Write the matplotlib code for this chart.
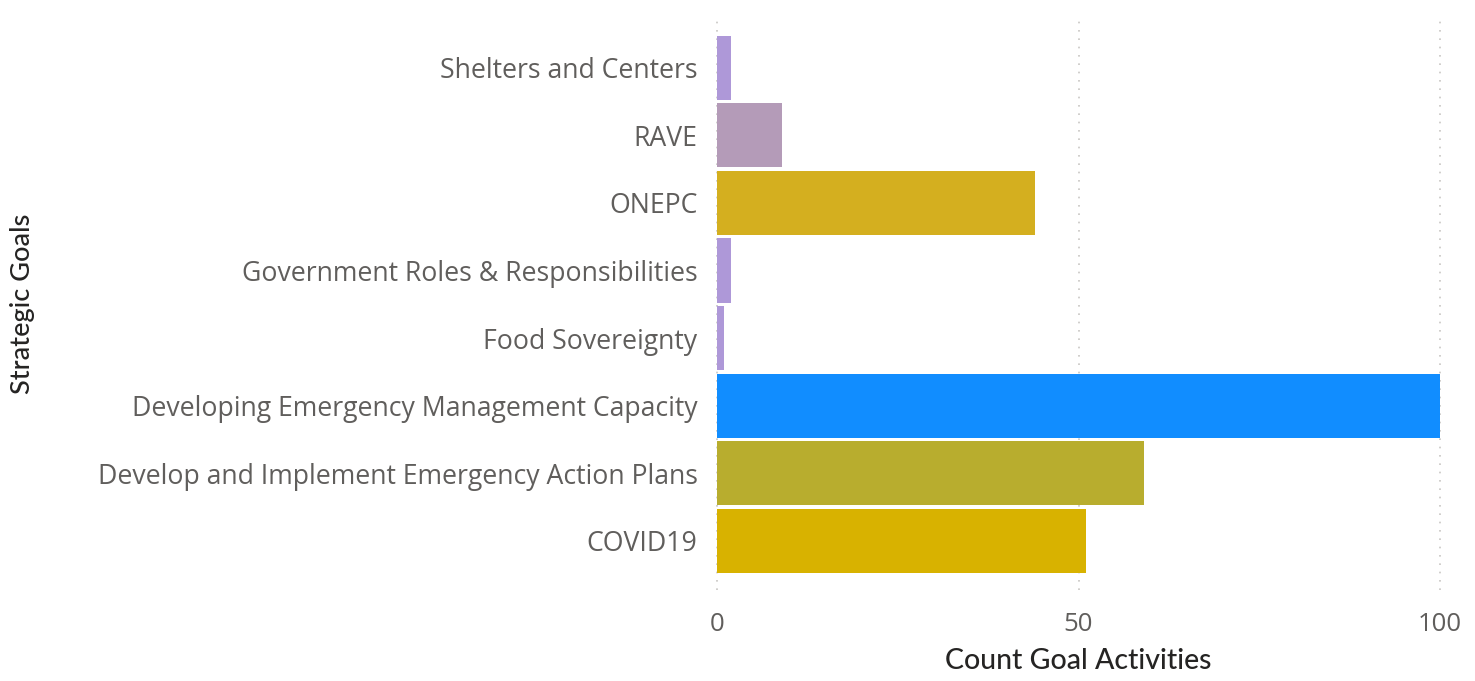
import matplotlib
matplotlib.use("Agg")
import matplotlib.pyplot as plt

categories = ["COVID19", "Develop and Implement Emergency Action Plans",
              "Developing Emergency Management Capacity", "Food Sovereignty",
              "Government Roles & Responsibilities", "ONEPC", "RAVE",
              "Shelters and Centers"]
values = [51, 59, 100, 1, 2, 44, 9, 2]
colors = ["#D8B200", "#B8AD2E", "#118DFF", "#AE98D8", "#AE98D8",
          "#D4AF1F", "#B49BB8", "#AE98D8"]
xticks = [0, 50, 100]

fig = plt.figure(figsize=(14.75, 6.81), dpi=100)
ax = fig.add_axes([717/1475, 1-590/681, (1440-717)/1475, (590-15)/681])
ypos = list(range(len(categories)))
ax.barh(ypos, values, height=0.95, color=colors, zorder=2)
ax.set_xlim(0, 100)
ax.set_ylim(-0.725, 7.78)
ax.set_yticks(ypos)
ax.set_yticklabels(categories, fontsize=19.2, color="#605E5C", family="Open Sans")
ax.set_xticks(xticks)
ax.set_xticklabels([str(t) for t in xticks], fontsize=18.5, color="#605E5C", family="Open Sans")
ax.tick_params(axis="y", length=0, pad=14)
ax.tick_params(axis="x", length=0, pad=16)
for t in xticks:
    ax.axvline(t, color="#C8C6C4", linestyle=(0, (1, 4)), linewidth=1.2, zorder=1, clip_on=False)
for s in ax.spines.values():
    s.set_visible(False)
ax.set_xlabel("Count Goal Activities", fontsize=20.5, color="#252423", family="Lato",
              fontweight="medium", labelpad=8)
fig.text(23/1475, 1-304/681, "Strategic Goals", rotation=90, fontsize=19.5, color="#252423",
         family="Lato", fontweight="medium", ha="center", va="center")
fig.savefig("out.png", dpi=100)
